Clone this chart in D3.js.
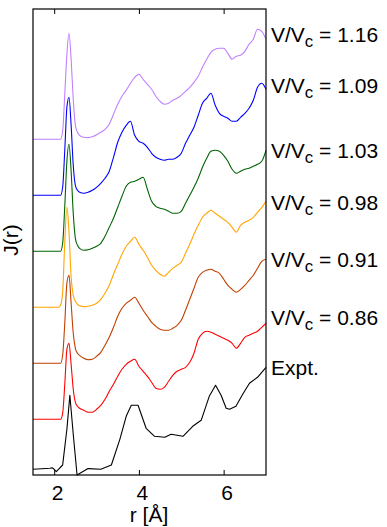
<!DOCTYPE html>
<html>
<head>
<meta charset="utf-8">
<script src="https://cdn.jsdelivr.net/npm/d3@7"></script>
<style>
  body { margin: 0; background: #fff; }
  svg { display: block; font-family: "Liberation Sans", Arial, sans-serif; }
</style>
</head>
<body>
<div id="chart"></div>
<script>
// r grid shared by the simulated curves
const rSim = [1.5, 2.1, 2.15, 2.2, 2.25, 2.3, 2.35, 2.4, 2.45, 2.5, 2.55, 2.6, 2.7, 2.8, 2.9,
  3.0, 3.1, 3.2, 3.3, 3.4, 3.5, 3.6, 3.7, 3.8, 3.9, 4.0, 4.1, 4.2, 4.3, 4.4, 4.5, 4.6, 4.7, 4.8, 4.9,
  5.0, 5.1, 5.2, 5.3, 5.4, 5.5, 5.6, 5.7, 5.8, 5.9, 6.0, 6.1, 6.2, 6.3, 6.4, 6.5, 6.6, 6.7, 6.8, 6.9, 7.0];

// J(r), arbitrary units, before vertical offset
const j116 = [0, 0, 0, 0.08, 0.45, 0.85, 1.06, 0.80, 0.40, 0.14, 0.07, 0.04, 0.02, 0.017, 0.025,
  0.045, 0.07, 0.10, 0.15, 0.25, 0.35, 0.43, 0.49, 0.56, 0.62, 0.65, 0.60, 0.55, 0.50, 0.43, 0.38, 0.35, 0.36, 0.39, 0.41,
  0.44, 0.48, 0.52, 0.57, 0.63, 0.72, 0.80, 0.87, 0.90, 0.91, 0.91, 0.86, 0.80, 0.83, 0.84, 0.88, 0.95, 1.00, 1.10, 1.08, 1.00];
const j109 = [0, 0, 0, 0.08, 0.45, 0.88, 0.98, 0.70, 0.30, 0.10, 0.05, 0.03, 0.02, 0.03, 0.05,
  0.08, 0.12, 0.17, 0.24, 0.38, 0.53, 0.63, 0.70, 0.74, 0.60, 0.54, 0.52, 0.48, 0.42, 0.38, 0.36, 0.35, 0.36, 0.36, 0.38,
  0.42, 0.52, 0.60, 0.68, 0.80, 0.92, 0.97, 1.02, 0.90, 0.82, 0.79, 0.77, 0.74, 0.74, 0.78, 0.82, 0.87, 0.95, 1.08, 1.12, 1.06];
const j103 = [0, 0, 0, 0.08, 0.45, 0.90, 1.07, 0.80, 0.38, 0.13, 0.06, 0.03, 0.01, 0.015, 0.03,
  0.05, 0.08, 0.15, 0.24, 0.33, 0.44, 0.55, 0.65, 0.69, 0.70, 0.72, 0.74, 0.62, 0.50, 0.45, 0.43, 0.42, 0.40, 0.38, 0.38,
  0.40, 0.48, 0.56, 0.64, 0.73, 0.84, 0.93, 1.00, 1.01, 1.00, 0.96, 0.90, 0.82, 0.78, 0.80, 0.82, 0.83, 0.85, 0.87, 0.90, 1.01];
const j098 = [0, 0, 0.02, 0.15, 0.65, 1.00, 0.75, 0.30, 0.12, 0.06, 0.03, 0.015, 0.007, 0.01, 0.02,
  0.04, 0.08, 0.14, 0.22, 0.33, 0.43, 0.53, 0.61, 0.66, 0.70, 0.63, 0.57, 0.50, 0.42, 0.37, 0.33, 0.31, 0.35, 0.39, 0.42,
  0.45, 0.54, 0.63, 0.73, 0.82, 0.90, 0.94, 0.97, 0.94, 0.91, 0.88, 0.85, 0.80, 0.75, 0.82, 0.85, 0.87, 0.90, 0.95, 1.00, 1.06];
const j091 = [0, 0, 0, 0.08, 0.40, 0.80, 0.88, 0.60, 0.30, 0.15, 0.10, 0.08, 0.05, 0.035, 0.04,
  0.07, 0.11, 0.18, 0.26, 0.36, 0.47, 0.55, 0.60, 0.63, 0.66, 0.60, 0.53, 0.47, 0.41, 0.37, 0.34, 0.33, 0.33, 0.35, 0.38,
  0.43, 0.53, 0.64, 0.75, 0.86, 0.91, 0.93, 0.94, 0.92, 0.90, 0.84, 0.78, 0.74, 0.71, 0.74, 0.78, 0.83, 0.88, 0.95, 1.02, 1.04];
const j086 = [0, 0, 0, 0.06, 0.35, 0.70, 0.76, 0.55, 0.30, 0.17, 0.13, 0.11, 0.09, 0.07, 0.07,
  0.10, 0.14, 0.20, 0.28, 0.35, 0.43, 0.50, 0.55, 0.58, 0.60, 0.53, 0.48, 0.43, 0.37, 0.31, 0.30, 0.32, 0.38, 0.44, 0.48,
  0.50, 0.52, 0.57, 0.66, 0.80, 0.86, 0.88, 0.87, 0.85, 0.83, 0.81, 0.79, 0.76, 0.71, 0.76, 0.82, 0.84, 0.86, 0.88, 0.92, 0.96];

// experiment
const rExp = [1.5, 1.9, 1.95, 2.0, 2.05, 2.1, 2.2, 2.3, 2.37, 2.45, 2.54, 2.65, 2.8, 3.1, 3.35, 3.55, 3.7,
  3.82, 3.98, 4.17, 4.37, 4.61, 4.76, 5.04, 5.27, 5.47, 5.66, 5.81, 5.94, 6.06, 6.14, 6.29, 6.45, 6.61, 6.8, 7.0];
const jExp = [0, 0.01, 0.015, 0, -0.023, 0, 0.043, 0.40, 0.74, 0.35, -0.057, -0.03, 0.007, 0, 0.043, 0.30, 0.53,
  0.64, 0.64, 0.41, 0.33, 0.32, 0.35, 0.33, 0.43, 0.49, 0.73, 0.84, 0.74, 0.61, 0.60, 0.63, 0.75, 0.86, 0.92, 1.02];

const seriesNames = ['V/V_c = 1.16', 'V/V_c = 1.09', 'V/V_c = 1.03', 'V/V_c = 0.98', 'V/V_c = 0.91', 'V/V_c = 0.86', 'Expt.'];
const seriesValues = [j116, j109, j103, j098, j091, j086, jExp];
const seriesOffsets = [3.30, 2.74, 2.18, 1.62, 1.06, 0.50, 0];
const seriesColors = ['#c080ff', '#0000ff', '#006400', '#ffa500', '#c04000', '#ff0000', '#000000'];
const labelY = [41.7, 93.3, 158.3, 210, 267, 325, 375];
const xTicks = [2, 4, 6];

const width = 387, height = 527;
const margin = { left: 33, right: 121, top: 9, bottom: 52 };
const fontSize = 21;

const svg = d3.select('#chart').append('svg')
  .attr('width', width)
  .attr('height', height);

const x = d3.scaleLinear().domain([1.5, 7.0]).range([margin.left, width - margin.right]);
const y = d3.scaleLinear().domain([-0.057, 4.603]).range([height - margin.bottom, margin.top]);

const line = d3.line()
  .x(d => x(d[0]))
  .y(d => y(d[1]));

seriesValues.forEach((vals, i) => {
  const rs = i === 6 ? rExp : rSim;
  const pts = rs.map((r, k) => [r, vals[k] + seriesOffsets[i]]);
  svg.append('path')
    .datum(pts)
    .attr('fill', 'none')
    .attr('stroke', seriesColors[i])
    .attr('stroke-width', 1.1)
    .attr('stroke-linejoin', 'round')
    .attr('d', line.curve(i === 6 ? d3.curveLinear : d3.curveMonotoneX));
});

// frame
svg.append('rect')
  .attr('x', x(1.5))
  .attr('y', y(4.603))
  .attr('width', x(7.0) - x(1.5))
  .attr('height', y(-0.057) - y(4.603))
  .attr('fill', 'none')
  .attr('stroke', '#000')
  .attr('stroke-width', 1.2);

// inward ticks, bottom and top
const bottomAxis = svg.append('g')
  .attr('transform', `translate(0,${y(-0.057)})`)
  .call(d3.axisBottom(x).tickValues(xTicks).tickSize(-5).tickPadding(10).tickFormat(d3.format('d')));
bottomAxis.select('.domain').remove();
bottomAxis.selectAll('line').attr('stroke', '#000');
bottomAxis.selectAll('text')
  .attr('font-size', fontSize)
  .attr('fill', '#000')
  .attr('dx', 3)
  .attr('y', 25)
  .attr('dy', 0);

const topAxis = svg.append('g')
  .attr('transform', `translate(0,${y(4.603)})`)
  .call(d3.axisTop(x).tickValues(xTicks).tickSize(-5).tickFormat(''));
topAxis.select('.domain').remove();
topAxis.selectAll('line').attr('stroke', '#000');

svg.append('text')
  .attr('x', 149)
  .attr('y', 522)
  .attr('text-anchor', 'middle')
  .attr('font-size', fontSize)
  .text('r [Å]');

svg.append('text')
  .attr('transform', 'translate(18,240) rotate(-90)')
  .attr('text-anchor', 'middle')
  .attr('font-size', fontSize)
  .text('J(r)');

// curve labels
seriesNames.forEach((name, i) => {
  const t = svg.append('text')
    .attr('x', 271)
    .attr('y', labelY[i])
    .attr('font-size', fontSize)
    .attr('fill', '#000');
  if (name.includes('_c')) {
    const parts = name.split('_c');
    t.append('tspan').text(parts[0]);
    t.append('tspan').attr('dy', 5).attr('font-size', fontSize * 0.8).text('c');
    t.append('tspan').attr('dy', -5).text(parts[1]);
  } else {
    t.text(name);
  }
});
</script>
</body>
</html>
